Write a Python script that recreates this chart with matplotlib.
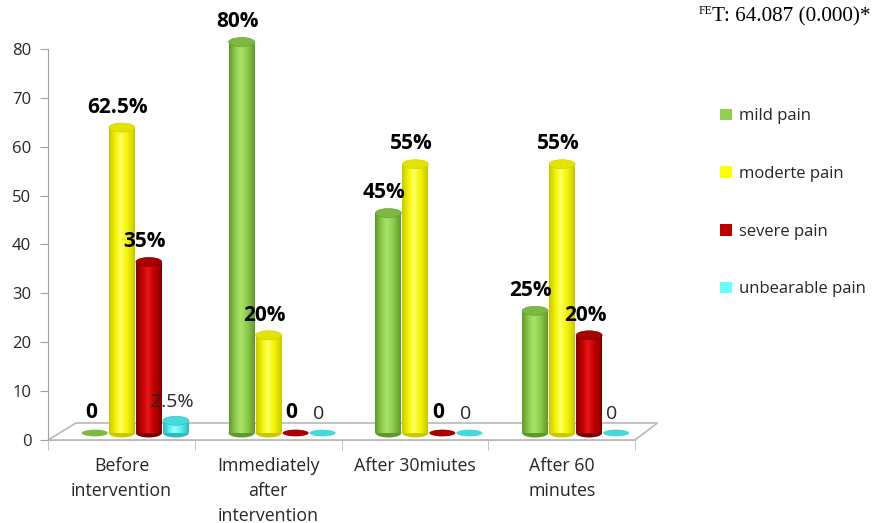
import numpy as np
import matplotlib
matplotlib.use("Agg")
import matplotlib.pyplot as plt
from matplotlib.patches import Ellipse, Rectangle, Polygon
from matplotlib.colors import to_rgb

# ---------------- data ----------------
categories = ["Before\nintervention", "Immediately\nafter\nintervention",
              "After 30miutes", "After 60\nminutes"]
series_names = ["mild pain", "moderte pain", "severe pain", "unbearable pain"]
mild = [0, 80, 45, 25]
moderate = [62.5, 20, 55, 55]
severe = [35, 0, 0, 20]
unbearable = [2.5, 0, 0, 0]
yticks = [0, 10, 20, 30, 40, 50, 60, 70, 80]
stat_text = "T: 64.087 (0.000)*"
stat_sup = "FE"

series_values = [mild, moderate, severe, unbearable]
label_bold = [True, True, True, False]

# colours: (dark edge, mid, highlight, top, legend)
palette = [
    ("#5f9a28", "#8fcb4e", "#a8e46a", "#7db843", "#92d050"),
    ("#c9c900", "#f4f400", "#ffff66", "#e3e300", "#ffff00"),
    ("#7e0000", "#c40000", "#e31a1a", "#a80000", "#c00000"),
    ("#2fbcbc", "#5cf0f0", "#9affff", "#48d8d8", "#66ffff"),
]

FONT = "Open Sans"
TXT = "#262626"

fig = plt.figure(figsize=(8.76, 5.23), dpi=100)
ax = fig.add_axes([48 / 876, (523 - 440) / 523, (635 - 48) / 876, (440 - 49) / 523])
ax.set_xlim(-0.5, 3.5)
ax.set_ylim(0, 80)

px_x = 1 / 146.75        # data units per pixel (x)
px_y = 80 / 391.0        # data units per pixel (y)
DX, DY = 28 * px_x, 17 * px_y      # floor depth
BX, BY = 14 * px_x, 7 * px_y       # bar depth offset
step = 27 * px_x
width = 26 * px_x
eh = 9 * px_y

# floor
floor = Polygon([(-0.5, 0), (3.5, 0), (3.5 + DX * 0.8, DY), (-0.5 + DX, DY)],
                closed=True, facecolor="white", edgecolor="#b8b8b8", lw=1.2,
                zorder=1, clip_on=False)
ax.add_patch(floor)

def gradient_img(dark, mid, hi):
    stops = [0.0, 0.25, 0.45, 0.7, 1.0]
    cols = [to_rgb(dark), to_rgb(mid), to_rgb(hi), to_rgb(mid), to_rgb(dark)]
    t = np.linspace(0, 1, 64)
    arr = np.zeros((1, 64, 3))
    for c in range(3):
        arr[0, :, c] = np.interp(t, stops, [col[c] for col in cols])
    return arr

for j, vals in enumerate(series_values):
    dark, mid, hi, top, leg = palette[j]
    img = gradient_img(dark, mid, hi)
    for i, v in enumerate(vals):
        x = i + (j - 1.5) * step + BX
        z = 3 + j
        if v > 0:
            ax.add_patch(Ellipse((x, BY), width, eh, facecolor=dark, edgecolor="none",
                                 zorder=z, clip_on=False))
            bars = ax.bar(x, v, width, bottom=BY, color=mid, zorder=z, clip_on=False)
            rect = bars.patches[0]
            im = ax.imshow(img, extent=(x - width / 2, x + width / 2, BY, BY + v),
                           aspect="auto", zorder=z + 0.1, interpolation="bilinear")
            im.set_clip_path(rect)
            ax.add_patch(Ellipse((x, BY + v), width, eh, facecolor=top,
                                 edgecolor=dark, lw=0.4, zorder=z + 0.2, clip_on=False))
            lab = f"{v:g}%"
        else:
            ax.add_patch(Ellipse((x, BY), width, eh * 0.75, facecolor=top,
                                 edgecolor="none", zorder=z, clip_on=False))
            lab = "0"
        ax.annotate(lab, (x, BY + v), xytext=(-3, 7), textcoords="offset points",
                    ha="center", va="bottom", fontsize=15 if label_bold[j] else 14,
                    fontweight="bold" if label_bold[j] else "normal",
                    family=FONT, color="black" if label_bold[j] else TXT,
                    zorder=10, annotation_clip=False)

ax.set_xlim(-0.5, 3.5)
ax.set_ylim(0, 80)

# axes styling
for s in ["top", "right"]:
    ax.spines[s].set_visible(False)
ax.spines["left"].set_color("#a0a0a0")
ax.spines["bottom"].set_color("#b8b8b8")
ax.spines["left"].set_zorder(2)
ax.set_yticks(yticks)
ax.tick_params(axis="y", length=6, color="#a0a0a0", labelsize=12, labelcolor=TXT, pad=6)
ax.set_xticks(range(len(categories)))
ax.set_xticklabels(categories, linespacing=1.5)
ax.set_xticks([-0.5, 0.5, 1.5, 2.5, 3.5], minor=True)
ax.tick_params(axis="x", which="major", length=0, labelsize=12.8, labelcolor=TXT, pad=12)
ax.tick_params(axis="x", which="minor", length=7, color="#b8b8b8")
for t in ax.get_xticklabels() + ax.get_yticklabels():
    t.set_family(FONT)

# legend
handles = [Rectangle((0, 0), 1, 1, facecolor=p[4], edgecolor="none") for p in palette]
leg = fig.legend(handles, series_names, loc="upper left",
                 bbox_to_anchor=(712 / 876, 1 - 100 / 523), frameon=False,
                 handlelength=0.72, handleheight=0.72, handletextpad=0.4,
                 labelspacing=2.5, borderpad=0,
                 prop={"family": FONT, "size": 12})
for t in leg.get_texts():
    t.set_color(TXT)

# statistic text
fig.text(712 / 876, 1 - 17 / 523, stat_text, ha="left", va="center",
         family="Liberation Serif", fontsize=15.3, color="black")
fig.text(712 / 876, 1 - 11 / 523, stat_sup, ha="right", va="center",
         family="Liberation Serif", fontsize=8.5, color="black")

fig.savefig("out.png", dpi=100)
